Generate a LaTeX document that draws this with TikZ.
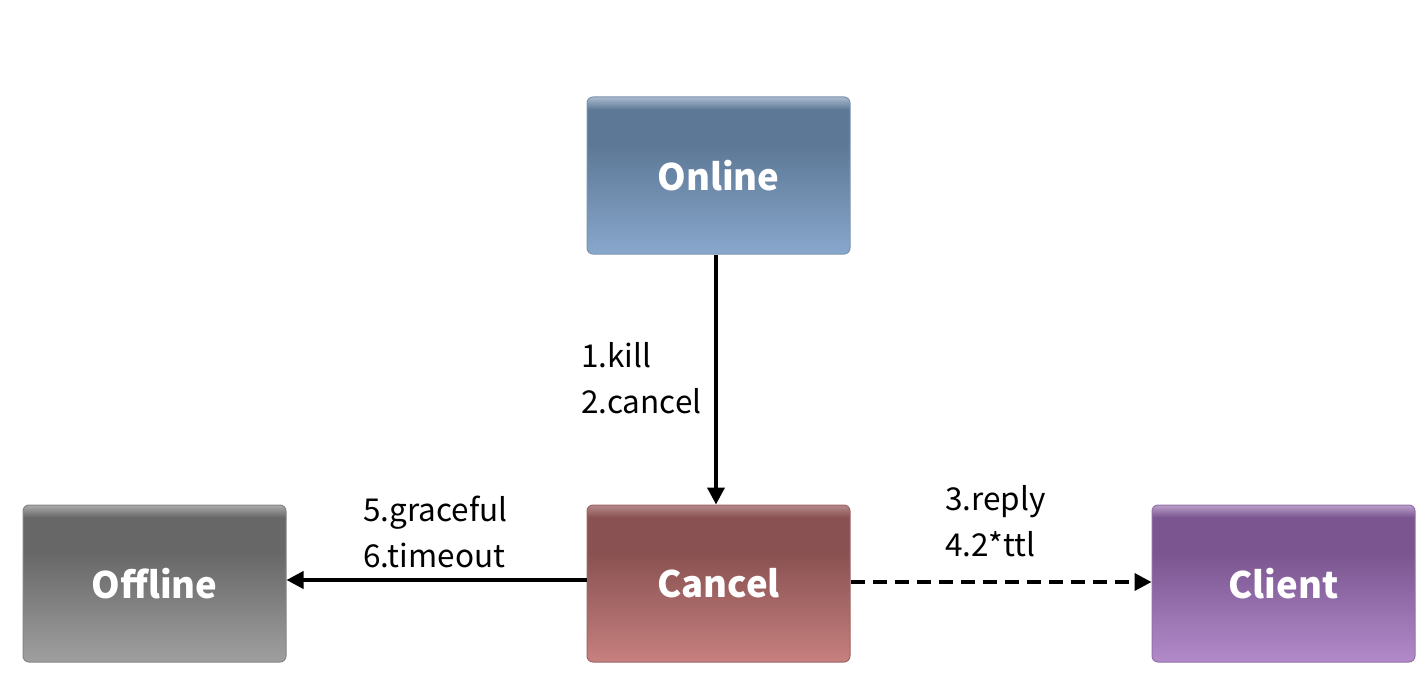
\documentclass[tikz,border=0pt]{standalone}
\usepackage{fontspec}
\setmainfont{Noto Sans CJK SC}
\usetikzlibrary{arrows.meta}
\definecolor{onH}{HTML}{A9BBCF}\definecolor{onD}{HTML}{5D7896}\definecolor{onB}{HTML}{88A7CC}\definecolor{onE}{HTML}{7C93B0}
\definecolor{caH}{HTML}{B58A8A}\definecolor{caD}{HTML}{895151}\definecolor{caB}{HTML}{C6807F}\definecolor{caE}{HTML}{9E6565}
\definecolor{ofH}{HTML}{ABABAB}\definecolor{ofD}{HTML}{676767}\definecolor{ofB}{HTML}{9F9F9F}\definecolor{ofE}{HTML}{858585}
\definecolor{clH}{HTML}{BBA0CB}\definecolor{clD}{HTML}{7A558F}\definecolor{clB}{HTML}{B28ACA}\definecolor{clE}{HTML}{9272A8}
\pgfdeclareverticalshading{onshade}{100bp}{color(0bp)=(onB); color(25bp)=(onB); color(60bp)=(onD); color(71bp)=(onD); color(75bp)=(onH); color(100bp)=(onH)}
\pgfdeclareverticalshading{cashade}{100bp}{color(0bp)=(caB); color(25bp)=(caB); color(60bp)=(caD); color(71bp)=(caD); color(75bp)=(caH); color(100bp)=(caH)}
\pgfdeclareverticalshading{ofshade}{100bp}{color(0bp)=(ofB); color(25bp)=(ofB); color(60bp)=(ofD); color(71bp)=(ofD); color(75bp)=(ofH); color(100bp)=(ofH)}
\pgfdeclareverticalshading{clshade}{100bp}{color(0bp)=(clB); color(25bp)=(clB); color(60bp)=(clD); color(71bp)=(clD); color(75bp)=(clH); color(100bp)=(clH)}
\tikzset{
  statebox/.style={rounded corners=6pt, line width=1pt, minimum width=263pt, minimum height=157pt,
    inner sep=0pt, text=white, font=\fontsize{36.5}{44}\selectfont\bfseries, shade},
  lbl/.style={inner sep=0pt, align=left, font=\fontsize{31.5}{46}\selectfont, text=black},
  conn/.style={line width=3.8pt, -{Triangle[length=17pt,width=17pt]}},
}
\begin{document}
\begin{tikzpicture}[x=1pt,y=-1pt]
\useasboundingbox (0,0) rectangle (1424,682);
\node[statebox, shading=onshade, draw=onE] (online) at (718.5,175.5) {Online};
\node[statebox, shading=cashade, draw=caE] (cancel) at (718.5,583.5) {Cancel};
\node[statebox, shading=ofshade, draw=ofE] (offline) at (154.5,583.5) {Offline};
\node[statebox, shading=clshade, draw=clE] (client) at (1283.5,583.5) {Client};
\draw[conn] ([xshift=-2.5pt]online.south) -- ([xshift=-2.5pt]cancel.north);
\draw[conn] ([yshift=3.5pt]cancel.west) -- ([yshift=3.5pt]offline.east);
\draw[conn, dash pattern=on 14pt off 8pt] ([yshift=1.5pt]cancel.east) -- ([yshift=1.5pt]client.west);
\node[lbl, anchor=base west] (l1) at (581,413) {1.kill\\2.cancel};
\node[lbl, anchor=base west] (l2) at (363,567) {5.graceful\\6.timeout};
\node[lbl, anchor=base west] (l3) at (945,556) {3.reply\\4.2*ttl};
\end{tikzpicture}
\end{document}
